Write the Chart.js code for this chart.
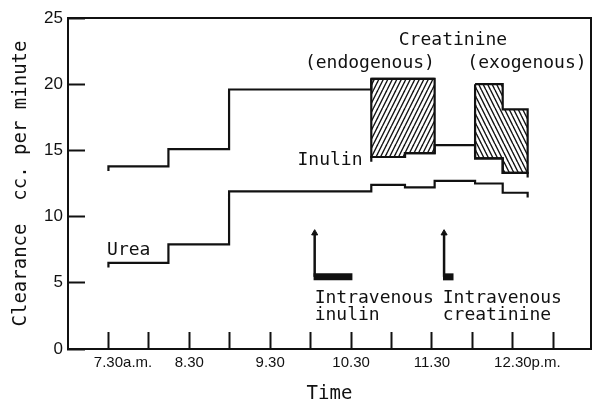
<!DOCTYPE html>
<html><head><meta charset="utf-8">
<script src="https://cdn.jsdelivr.net/npm/chart.js@4.4.0/dist/chart.umd.min.js"></script>
<style>html,body{margin:0;padding:0;background:#fff}</style>
</head><body>
<canvas id="c" width="599" height="405"></canvas>
<script>
// Time axis: minutes after 7.00 a.m.
const xTickValues = [30, 60, 90, 120, 150, 180, 210, 240, 270, 300, 330, 360];
const xTickLabels = ['7.30a.m.', '', '8.30', '', '9.30', '', '10.30', '', '11.30', '', '12.30p.m.', ''];
const yTickValues = [0, 5, 10, 15, 20, 25];

// Clearance periods (boundaries in minutes) and values (cc. per minute)
const creatEndoBounds = [30, 74.5, 119.5, 225, 272];
const creatEndo = [13.8, 15.1, 19.6, 20.4];
const creatExoBounds = [302, 322.5, 341];
const creatExo = [20.0, 18.1];
const inulinBounds = [225, 250, 272, 302, 322.5, 341];
const inulin = [14.5, 14.8, 15.4, 14.4, 13.3];
const ureaBounds = [30, 74.5, 119.5, 225, 250, 272, 302, 322.5, 341];
const urea = [6.5, 7.9, 11.9, 12.4, 12.2, 12.7, 12.5, 11.8];

// Intravenous injections (minutes)
const injectionStart = [183, 279];
const injectionEnd = [211, 286];

const INK = '#111';
const HOOK = 0.35;

function stepLine(bounds, vals, hookStart, hookEnd) {
  const pts = [];
  if (hookStart) pts.push({x: bounds[0], y: vals[0] - HOOK});
  vals.forEach((v, i) => pts.push({x: bounds[i], y: v}));
  const last = vals[vals.length - 1], end = bounds[bounds.length - 1];
  pts.push({x: end, y: last});
  if (hookEnd) pts.push({x: end, y: last - HOOK});
  return pts;
}
function corners(bounds, vals, a, b) {
  const pts = [];
  vals.forEach((v, i) => {
    if (bounds[i] >= a && bounds[i + 1] <= b) {
      pts.push({x: bounds[i], y: v}, {x: bounds[i + 1], y: v});
    }
  });
  return pts;
}
function band(ub, uv, lb, lv, a, b) {
  const up = corners(ub, uv, a, b);
  const lo = corners(lb, lv, a, b).reverse();
  const poly = up.concat(lo);
  poly.push(poly[0]);
  return poly;
}
function hatch(dir) {
  const W = 9, H = 18, s = 4.5;
  const c = document.createElement('canvas'); c.width = W; c.height = H;
  const g = c.getContext('2d');
  g.strokeStyle = INK; g.lineWidth = 1.4;
  for (let k = -3; k <= 3; k++) {
    const x0 = k * s;
    g.beginPath();
    if (dir > 0) { g.moveTo(x0, H); g.lineTo(x0 + W, 0); }
    else { g.moveTo(x0, 0); g.lineTo(x0 + W, H); }
    g.stroke();
  }
  return g.createPattern(c, 'repeat');
}

const lineStyle = {borderColor: INK, borderWidth: 2.2, pointRadius: 0, fill: false, stepped: 'before'};

const datasets = [
  {data: band(creatEndoBounds, creatEndo, inulinBounds, inulin, 225, 272),
   borderColor: INK, borderWidth: 2.2, pointRadius: 0, fill: 'shape', backgroundColor: hatch(1)},
  {data: band(creatExoBounds, creatExo, inulinBounds, inulin, 302, 341),
   borderColor: INK, borderWidth: 2.2, pointRadius: 0, fill: 'shape', backgroundColor: hatch(-1)},
  Object.assign({data: stepLine(creatEndoBounds, creatEndo, true, false)}, lineStyle),
  Object.assign({data: stepLine(inulinBounds, inulin, true, true)}, lineStyle),
  Object.assign({data: stepLine(ureaBounds, urea, true, true)}, lineStyle),
];
injectionStart.forEach((s, i) => {
  datasets.push({data: [{x: s, y: 5.45}, {x: s, y: 8.75}], borderColor: INK, borderWidth: 2.5,
    pointRadius: [0, 3.5], pointStyle: 'triangle', pointBackgroundColor: INK, pointBorderColor: INK, pointBorderWidth: 1});
  datasets.push({data: [{x: s - 0.8, y: 5.45}, {x: injectionEnd[i], y: 5.45}], borderColor: INK, borderWidth: 7,
    borderCapStyle: 'butt', pointRadius: 0});
});

const notes = [
  {t: 'Creatinine', x: 285.6, y: 23.3, align: 'center'},
  {t: '(endogenous)', x: 224, y: 21.6, align: 'center'},
  {t: '(exogenous)', x: 340.5, y: 21.6, align: 'center'},
  {t: 'Inulin', x: 218.5, y: 14.27, align: 'right'},
  {t: 'Urea', x: 29, y: 7.44, align: 'left'},
  {t: 'Intravenous', x: 183, y: 3.81, align: 'left'},
  {t: 'inulin', x: 183, y: 2.55, align: 'left'},
  {t: 'Intravenous', x: 278, y: 3.81, align: 'left'},
  {t: 'creatinine', x: 278, y: 2.55, align: 'left'},
];
const NOTE_FONT = '18px "DejaVu Sans Mono"';
const TICK_FONT_X = {family: '"Liberation Sans"', size: 15};

const notesPlugin = {
  id: 'notes',
  afterDatasetsDraw(chart) {
    const {ctx, scales: {x, y}} = chart;
    ctx.save();
    ctx.fillStyle = INK; ctx.font = NOTE_FONT; ctx.textBaseline = 'middle';
    notes.forEach(n => { ctx.textAlign = n.align; ctx.fillText(n.t, x.getPixelForValue(n.x), y.getPixelForValue(n.y)); });
    ctx.restore();
  }
};
const framePlugin = {
  id: 'frame',
  afterDraw(chart) {
    const {ctx, chartArea: a} = chart;
    ctx.save();
    ctx.strokeStyle = INK; ctx.lineWidth = 2;
    ctx.beginPath();
    ctx.moveTo(a.left, a.top); ctx.lineTo(a.right, a.top); ctx.lineTo(a.right, a.bottom);
    ctx.stroke();
    ctx.restore();
  }
};

// centre the numeral part of a label on its tick
const mctx = document.createElement('canvas').getContext('2d');
mctx.font = TICK_FONT_X.size + 'px ' + TICK_FONT_X.family;
function padLabel(s) {
  const m = /^([\d.]+)(.*)$/.exec(s);
  if (!m || !m[2]) return s;
  const w = mctx.measureText(m[2]).width, sp = mctx.measureText(' ').width;
  return ' '.repeat(Math.round(w / sp)) + s;
}

new Chart(document.getElementById('c'), {
  type: 'line',
  data: {datasets},
  plugins: [notesPlugin, framePlugin],
  options: {
    responsive: false, animation: false, devicePixelRatio: 1,
    layout: {padding: {top: 18, right: 8, left: 0, bottom: 0}},
    plugins: {legend: {display: false}, tooltip: {enabled: false}},
    elements: {line: {tension: 0}},
    scales: {
      x: {
        type: 'linear', min: 0, max: 388,
        afterBuildTicks: s => { s.ticks = xTickValues.map(v => ({value: v})); },
        afterFit: s => { s.height = 56; s.paddingLeft = 0; s.paddingRight = 0; },
        grid: {drawOnChartArea: false, drawTicks: true, tickLength: -17, tickWidth: 2, tickColor: INK},
        border: {display: true, width: 2, color: INK},
        ticks: {autoSkip: false, maxRotation: 0, padding: 22, color: INK, font: TICK_FONT_X,
          callback: v => padLabel(xTickLabels[xTickValues.indexOf(v)] || '')},
        title: {display: true, text: 'Time', color: INK, font: {family: '"DejaVu Sans Mono"', size: 19}, padding: {top: 0, bottom: 0}}
      },
      y: {
        min: 0, max: 25,
        afterBuildTicks: s => { s.ticks = yTickValues.map(v => ({value: v})); },
        afterFit: s => { s.width = 68; s.paddingTop = 0; s.paddingBottom = 0; },
        grid: {drawOnChartArea: false, drawTicks: true, tickLength: -17, tickWidth: 2, tickColor: INK},
        border: {display: true, width: 2, color: INK},
        ticks: {padding: 22, color: INK, font: {family: '"Liberation Sans"', size: 17}},
        title: {display: true, text: 'Clearance  cc. per minute', color: INK, font: {family: '"DejaVu Sans Mono"', size: 19}, padding: {top: 10, bottom: 0}}
      }
    }
  }
});
</script>
</body></html>
